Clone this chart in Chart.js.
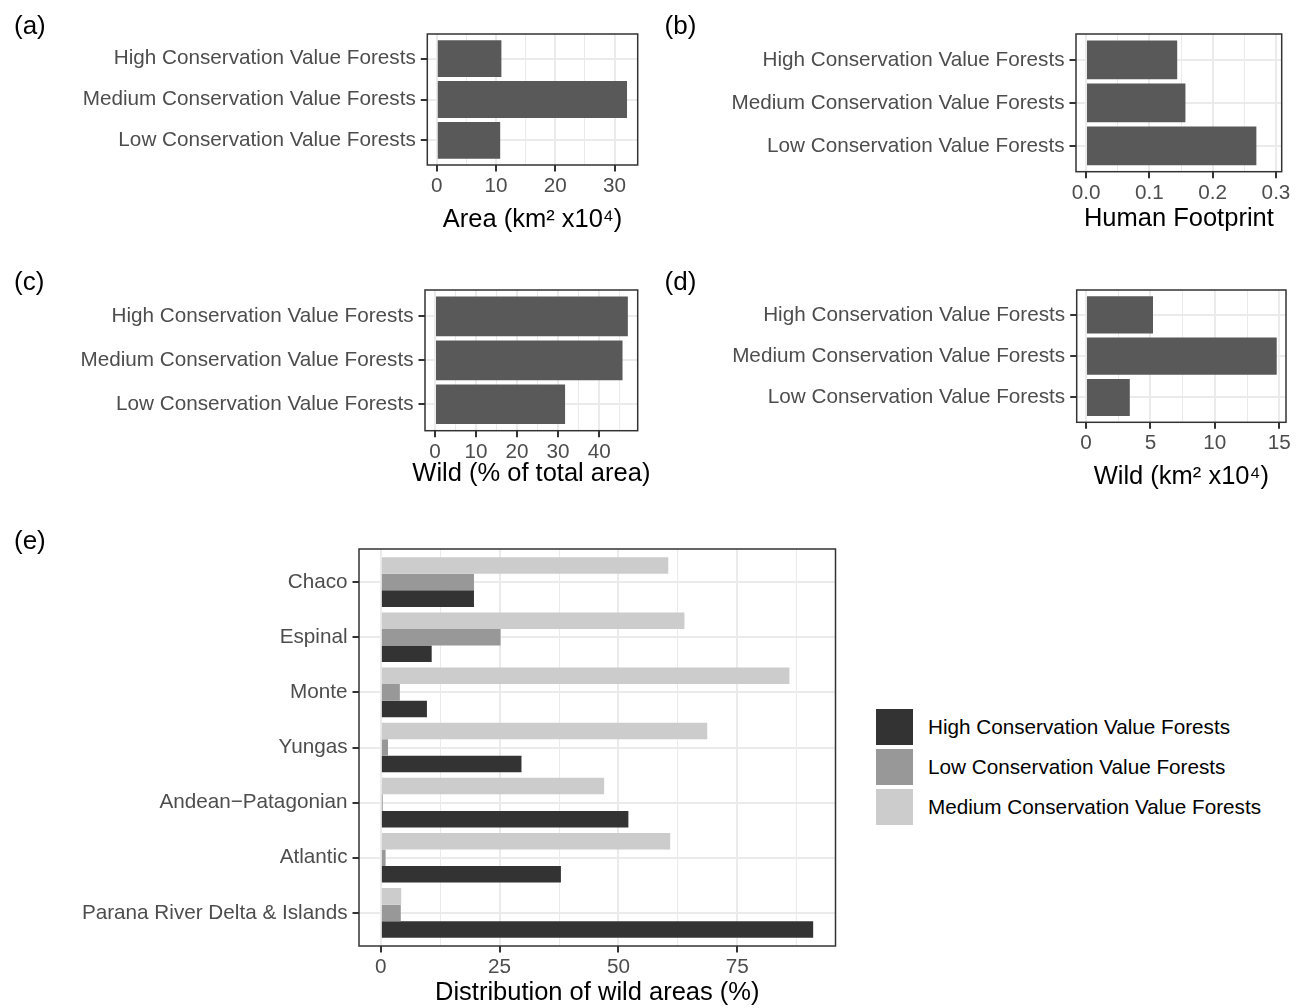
<!DOCTYPE html>
<html lang="en">
<head>
<meta charset="utf-8">
<title>Conservation value forests and wild areas</title>
<script src="https://cdn.jsdelivr.net/npm/chart.js@4.4.1/dist/chart.umd.min.js"></script>
<style>
  html, body { margin: 0; padding: 0; background: #ffffff; }
  body { position: relative; width: 1296px; height: 1008px; overflow: hidden; }
  canvas { position: absolute; }
  #legendE {
    position: absolute; left: 876px; top: 709px;
    font: 20.7px 'Liberation Sans', Arial, Helvetica, sans-serif; color: #000000;
  }
  .legend-row { display: flex; align-items: center; height: 36px; margin-bottom: 4px; white-space: nowrap; }
  .legend-key { display: inline-block; width: 37px; height: 36px; margin-right: 15px; }
</style>
</head>
<body>
<canvas id="panelA"></canvas>
<canvas id="panelB"></canvas>
<canvas id="panelC"></canvas>
<canvas id="panelD"></canvas>
<canvas id="panelE"></canvas>
<div id="legendE"></div>
<script>
// ---- values ----

// forest classes of panels (a)-(d), top to bottom
const forestClasses = [
    'High Conservation Value Forests',
    'Medium Conservation Value Forests',
    'Low Conservation Value Forests'
];
const areaKm2 = [10.9, 32.1, 10.7];            // (a) Area (km2 x10^4)
const humanFootprint = [0.144, 0.157, 0.269];  // (b) Human Footprint
const wildPercent = [47.0, 45.7, 31.7];        // (c) Wild (% of total area)
const wildKm2 = [5.2, 14.8, 3.4];              // (d) Wild (km2 x10^4)

// panel (e): ecoregions top to bottom
const ecoregions = ['Chaco', 'Espinal', 'Monte', 'Yungas', 'Andean\u2212Patagonian', 'Atlantic', 'Parana River Delta & Islands'];
const highWild = [19.6, 10.7, 9.7, 29.6, 52.1, 37.9, 91.0];
const lowWild = [19.6, 25.2, 4.0, 1.5, 0.4, 1.0, 4.2];
const mediumWild = [60.5, 63.9, 86.0, 68.7, 47.0, 60.9, 4.3];

// value axis limits [min, max] and tick steps [grid step, labelled step]
const areaLimits = [-1.6, 33.9];
const areaSteps = [5, 10];
const footprintLimits = [-0.0158, 0.309];
const footprintSteps = [0.05, 0.1];
const wildPctLimits = [-2.44, 49.4];
const wildPctSteps = [5, 10];
const wildKmLimits = [-0.72, 15.52];
const wildKmSteps = [2.5, 5];
const distLimits = [-4.6, 95.7];
const distSteps = [12.5, 25];

// ---- page layout (canvas boxes, padding, axis sizes) ----
const boxes = {
    a: { left: 0, top: 0, width: 650, height: 235, pad: { left: 14, right: 12.3 }, tagTop: 20, axisW: 413.3, axisH: 70 },
    b: { left: 650, top: 0, width: 646, height: 234, pad: { left: 14.6, right: 14.3 }, tagTop: 20, axisW: 411.4, axisH: 62.3 },
    c: { left: 0, top: 260, width: 650, height: 229, pad: { left: 14, right: 12.3 }, tagTop: 16, axisW: 411, axisH: 58.3 },
    d: { left: 650, top: 260, width: 646, height: 232, pad: { left: 14.6, right: 10 }, tagTop: 16, axisW: 412.1, axisH: 69.7 },
    e: { left: 0, top: 526, width: 850, height: 482, pad: { left: 14, right: 14.5 }, tagTop: 9, axisW: 345, axisH: 62 }
};

const GRID = '#EBEBEB';
const INK = '#333333';
const TICK_TEXT = '#4D4D4D';
const FONT = "'Liberation Sans', Arial, Helvetica, sans-serif";

Chart.defaults.font.family = FONT;
Chart.defaults.color = TICK_TEXT;

// panel border drawn over the bars, like ggplot's theme_bw
const panelBorder = {
    id: 'panelBorder',
    afterDatasetsDraw(chart) {
        const { ctx, chartArea } = chart;
        ctx.save();
        ctx.strokeStyle = INK;
        ctx.lineWidth = 1.5;
        ctx.strokeRect(chartArea.left, chartArea.top, chartArea.width, chartArea.height);
        ctx.restore();
    }
};

// x axis title centred on the panel; the built-in one is squeezed to the panel width
const axisCaption = {
    id: 'axisCaption',
    afterDraw(chart, args, opts) {
        if (!opts.text) return;
        const { ctx, chartArea } = chart;
        ctx.save();
        ctx.font = '25.5px ' + FONT;
        ctx.fillStyle = '#000000';
        ctx.textAlign = 'center';
        ctx.textBaseline = 'middle';
        ctx.fillText(opts.text, (chartArea.left + chartArea.right) / 2, chart.scales.x.bottom - 15);
        ctx.restore();
    }
};

// legend built from the chart's own legend items, placed beside panel (e)
const htmlLegend = {
    id: 'htmlLegend',
    afterUpdate(chart, args, opts) {
        const holder = document.getElementById(opts.containerID);
        if (!holder) return;
        holder.innerHTML = '';
        const items = chart.options.plugins.legend.labels.generateLabels(chart).reverse();
        items.forEach(item => {
            const row = document.createElement('div');
            row.className = 'legend-row';
            const key = document.createElement('span');
            key.className = 'legend-key';
            key.style.background = item.fillStyle;
            const label = document.createElement('span');
            label.textContent = item.text;
            row.appendChild(key);
            row.appendChild(label);
            holder.appendChild(row);
        });
    }
};

function onStep(v, step) {
    const r = v / step;
    return Math.abs(r - Math.round(r)) < 1e-6;
}

function placeCanvas(id, box) {
    const cv = document.getElementById(id);
    cv.width = box.width;
    cv.height = box.height;
    cv.style.left = box.left + 'px';
    cv.style.top = box.top + 'px';
    cv.style.width = box.width + 'px';
    cv.style.height = box.height + 'px';
    return cv;
}

function valueScale(limits, steps, digits, height) {
    const isMajor = c => c.tick && onStep(c.tick.value, steps[1]);
    return {
        type: 'linear',
        position: 'bottom',
        min: limits[0],
        max: limits[1],
        border: { display: false },
        grid: {
            color: GRID,
            lineWidth: c => isMajor(c) ? 2 : 1,
            tickColor: c => isMajor(c) ? INK : 'rgba(0,0,0,0)',
            tickLength: 6.5,
            tickWidth: 2
        },
        ticks: {
            stepSize: steps[0],
            includeBounds: false,
            autoSkip: false,
            maxRotation: 0,
            padding: 2.5,
            color: TICK_TEXT,
            font: { size: 20.7 },
            callback: v => onStep(v, steps[1]) ? v.toFixed(digits) : ''
        },
        afterFit: s => { s.height = height; }
    };
}

// categories sit on a linear index axis so the 0.6 expansion of ggplot can be kept
function categoryScale(labels, width) {
    return {
        type: 'linear',
        position: 'left',
        reverse: true,
        offset: false,
        min: -0.6,
        max: labels.length - 0.4,
        border: { display: false },
        grid: { offset: false, color: GRID, lineWidth: 2, tickColor: INK, tickLength: 6.5, tickWidth: 2 },
        ticks: {
            stepSize: 1,
            includeBounds: false,
            autoSkip: false,
            padding: 5,
            color: TICK_TEXT,
            font: { size: 20.7 },
            callback: v => Number.isInteger(v) ? labels[v] : ''
        },
        afterFit: s => { s.width = width; }
    };
}

function panelTag(text, top) {
    return {
        display: true,
        text: text,
        align: 'start',
        color: '#000000',
        font: { size: 26, weight: 'normal', lineHeight: '14px' },
        padding: { top: top, bottom: 0 }
    };
}

function toPoints(values) {
    return values.map((v, i) => ({ x: v, y: i }));
}

function forestPanel(id, box, tag, values, limits, steps, digits, title) {
    return new Chart(placeCanvas(id, box), {
        type: 'bar',
        data: {
            datasets: [{
                data: toPoints(values),
                backgroundColor: '#595959',
                borderWidth: 0,
                categoryPercentage: 0.9,
                barPercentage: 1
            }]
        },
        options: {
            indexAxis: 'y',
            responsive: false,
            animation: false,
            devicePixelRatio: 1,
            events: [],
            layout: { padding: box.pad },
            scales: {
                x: valueScale(limits, steps, digits, box.axisH),
                y: categoryScale(forestClasses, box.axisW)
            },
            plugins: {
                legend: { display: false },
                tooltip: { enabled: false },
                title: panelTag(tag, box.tagTop),
                axisCaption: { text: title }
            }
        },
        plugins: [panelBorder, axisCaption]
    });
}

forestPanel('panelA', boxes.a, '(a)', areaKm2, areaLimits, areaSteps, 0, 'Area (km\u00b2 x10\u2074)');
forestPanel('panelB', boxes.b, '(b)', humanFootprint, footprintLimits, footprintSteps, 1, 'Human Footprint');
forestPanel('panelC', boxes.c, '(c)', wildPercent, wildPctLimits, wildPctSteps, 0, 'Wild (% of total area)');
forestPanel('panelD', boxes.d, '(d)', wildKm2, wildKmLimits, wildKmSteps, 0, 'Wild (km\u00b2 x10\u2074)');

// (e) grouped bars; dataset order gives Medium on top, High at the bottom of each group
new Chart(placeCanvas('panelE', boxes.e), {
    type: 'bar',
    data: {
        datasets: [
            { label: 'Medium Conservation Value Forests', data: toPoints(mediumWild), backgroundColor: '#CCCCCC' },
            { label: 'Low Conservation Value Forests', data: toPoints(lowWild), backgroundColor: '#989898' },
            { label: 'High Conservation Value Forests', data: toPoints(highWild), backgroundColor: '#333333' }
        ].map(ds => Object.assign(ds, {
            borderWidth: 0,
            categoryPercentage: 0.9,
            barPercentage: 1
        }))
    },
    options: {
        indexAxis: 'y',
        responsive: false,
        animation: false,
        devicePixelRatio: 1,
        events: [],
        layout: { padding: boxes.e.pad },
        scales: {
            x: valueScale(distLimits, distSteps, 0, boxes.e.axisH),
            y: categoryScale(ecoregions, boxes.e.axisW)
        },
        plugins: {
            tooltip: { enabled: false },
            title: panelTag('(e)', boxes.e.tagTop),
            legend: { display: false },
            axisCaption: { text: 'Distribution of wild areas (%)' },
            htmlLegend: { containerID: 'legendE' }
        }
    },
    plugins: [panelBorder, axisCaption, htmlLegend]
});
</script>
</body>
</html>
